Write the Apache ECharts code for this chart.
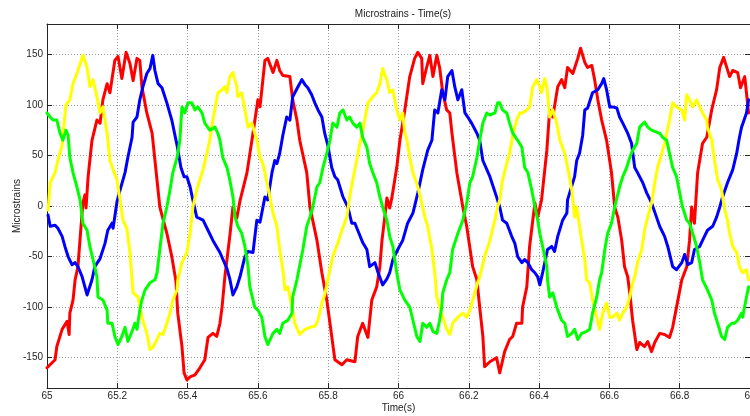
<!DOCTYPE html>
<html>
<head>
<meta charset="utf-8">
<title>Microstrains - Time(s)</title>
<script src="https://cdn.jsdelivr.net/npm/echarts@6/dist/echarts.min.js"></script>
<style>
  html, body { margin: 0; padding: 0; background: #fff; }
  #chart { width: 750px; height: 416px; }
</style>
</head>
<body>
<div id="chart"></div>
<script>
// Strain gauge readings, [time (s), microstrains]
const redTrace = [[65.000,-160],[65.023,-152],[65.028,-139],[65.043,-122],[65.057,-114],[65.063,-127],[65.065,-106],[65.074,-93],[65.080,-73],[65.088,-60],[65.102,3],[65.108,11],[65.111,-2],[65.117,29],[65.128,65],[65.142,85],[65.151,82],[65.159,105],[65.171,121],[65.179,112],[65.193,144],[65.202,148],[65.213,126],[65.225,152],[65.236,141],[65.245,124],[65.256,146],[65.264,144],[65.270,118],[65.284,92],[65.299,72],[65.321,-1],[65.341,-27],[65.355,-50],[65.367,-75],[65.372,-106],[65.384,-139],[65.390,-165],[65.398,-172],[65.407,-169],[65.421,-167],[65.435,-160],[65.449,-152],[65.458,-130],[65.472,-126],[65.483,-129],[65.492,-116],[65.498,-100],[65.506,-70],[65.520,-30],[65.529,-1],[65.540,-12],[65.549,5],[65.569,33],[65.586,72],[65.600,105],[65.606,98],[65.620,144],[65.628,146],[65.643,132],[65.654,144],[65.662,134],[65.671,129],[65.691,128],[65.699,105],[65.711,85],[65.719,65],[65.739,33],[65.748,-1],[65.768,-34],[65.782,-66],[65.796,-93],[65.805,-116],[65.819,-152],[65.827,-154],[65.839,-157],[65.853,-152],[65.876,-154],[65.884,-129],[65.898,-116],[65.913,-130],[65.924,-93],[65.938,-80],[65.947,-60],[65.953,-34],[65.961,-11],[65.967,8],[65.975,-2],[65.981,8],[65.995,38],[66.004,65],[66.018,95],[66.032,128],[66.046,146],[66.055,152],[66.066,146],[66.069,121],[66.080,137],[66.089,149],[66.098,128],[66.109,149],[66.117,137],[66.126,112],[66.137,95],[66.146,92],[66.152,72],[66.166,33],[66.183,-1],[66.194,-20],[66.211,-60],[66.223,-73],[66.231,-100],[66.240,-129],[66.245,-159],[66.260,-154],[66.279,-150],[66.288,-165],[66.302,-144],[66.316,-132],[66.325,-129],[66.336,-116],[66.351,-116],[66.353,-100],[66.365,-80],[66.373,-40],[66.388,3],[66.396,-11],[66.407,6],[66.422,55],[66.430,95],[66.439,88],[66.453,118],[66.464,125],[66.473,117],[66.481,137],[66.496,131],[66.510,146],[66.518,156],[66.530,142],[66.538,137],[66.550,139],[66.558,125],[66.567,105],[66.578,85],[66.592,65],[66.606,33],[66.615,-1],[66.624,-11],[66.635,-34],[66.643,-60],[66.652,-70],[66.658,-86],[66.666,-113],[66.678,-142],[66.686,-135],[66.700,-139],[66.709,-134],[66.720,-144],[66.729,-135],[66.743,-126],[66.757,-127],[66.771,-130],[66.780,-120],[66.791,-100],[66.806,-73],[66.820,-60],[66.828,-34],[66.834,-1],[66.842,-17],[66.851,33],[66.865,62],[66.877,68],[66.891,95],[66.905,115],[66.914,137],[66.925,147],[66.942,128],[66.951,134],[66.965,132],[66.973,117],[66.985,128],[66.996,92]];

const blueTrace = [[65.003,-9],[65.009,-20],[65.023,-19],[65.031,-22],[65.043,-30],[65.051,-40],[65.060,-50],[65.071,-58],[65.080,-56],[65.088,-60],[65.100,-70],[65.114,-88],[65.128,-73],[65.136,-60],[65.151,-52],[65.165,-37],[65.173,-24],[65.185,-17],[65.188,-22],[65.199,4],[65.208,16],[65.222,33],[65.230,48],[65.242,68],[65.245,83],[65.256,88],[65.264,105],[65.273,118],[65.284,131],[65.293,136],[65.301,149],[65.307,134],[65.316,121],[65.327,117],[65.341,102],[65.355,85],[65.370,60],[65.381,38],[65.390,29],[65.398,29],[65.407,19],[65.415,6],[65.426,-11],[65.444,-14],[65.458,-24],[65.472,-34],[65.492,-46],[65.512,-62],[65.520,-72],[65.529,-88],[65.540,-80],[65.549,-70],[65.563,-50],[65.572,-45],[65.586,-46],[65.597,-14],[65.606,-16],[65.620,9],[65.628,6],[65.640,33],[65.648,45],[65.654,42],[65.662,52],[65.671,70],[65.682,88],[65.691,85],[65.699,108],[65.714,118],[65.725,125],[65.734,120],[65.742,117],[65.753,110],[65.762,102],[65.771,95],[65.782,88],[65.790,72],[65.799,60],[65.810,38],[65.819,29],[65.827,26],[65.842,9],[65.856,-1],[65.867,-17],[65.876,-17],[65.884,-24],[65.898,-36],[65.910,-43],[65.918,-60],[65.933,-56],[65.941,-65],[65.955,-78],[65.967,-72],[65.975,-66],[65.984,-53],[65.998,-43],[66.012,-34],[66.026,-17],[66.041,-7],[66.055,13],[66.069,36],[66.083,55],[66.095,65],[66.103,95],[66.112,92],[66.123,115],[66.132,105],[66.140,128],[66.152,134],[66.160,118],[66.169,105],[66.180,115],[66.189,92],[66.197,88],[66.208,82],[66.223,72],[66.231,65],[66.240,45],[66.260,29],[66.279,9],[66.288,-1],[66.296,-14],[66.308,-17],[66.322,-30],[66.331,-37],[66.339,-50],[66.351,-56],[66.359,-53],[66.368,-56],[66.379,-63],[66.388,-66],[66.396,-70],[66.402,-78],[66.410,-66],[66.424,-43],[66.436,-40],[66.444,-45],[66.453,-30],[66.467,-14],[66.479,-7],[66.481,6],[66.487,13],[66.501,29],[66.507,45],[66.515,52],[66.524,70],[66.530,95],[66.538,97],[66.552,112],[66.567,115],[66.578,121],[66.584,126],[66.592,115],[66.601,98],[66.609,98],[66.621,97],[66.629,88],[66.638,82],[66.652,72],[66.663,62],[66.672,38],[66.680,33],[66.695,23],[66.706,13],[66.720,3],[66.734,-11],[66.743,-20],[66.757,-30],[66.766,-40],[66.780,-60],[66.791,-63],[66.806,-56],[66.814,-48],[66.823,-58],[66.834,-56],[66.842,-43],[66.857,-40],[66.865,-34],[66.879,-24],[66.894,-20],[66.905,-11],[66.914,-1],[66.922,9],[66.936,23],[66.951,36],[66.962,52],[66.970,68],[66.976,78],[66.990,92],[66.996,105]];

const yellowTrace = [[65.003,-4],[65.009,23],[65.023,33],[65.031,45],[65.043,60],[65.048,80],[65.054,100],[65.065,105],[65.074,121],[65.088,134],[65.102,149],[65.114,137],[65.122,118],[65.131,125],[65.142,108],[65.151,92],[65.159,98],[65.171,72],[65.179,45],[65.188,36],[65.199,26],[65.208,6],[65.216,-14],[65.227,-22],[65.236,-46],[65.242,-73],[65.245,-86],[65.259,-90],[65.270,-110],[65.284,-126],[65.293,-142],[65.301,-140],[65.313,-132],[65.321,-126],[65.330,-127],[65.341,-116],[65.350,-106],[65.358,-93],[65.370,-83],[65.372,-73],[65.384,-56],[65.398,-46],[65.407,-27],[65.415,-1],[65.426,16],[65.435,26],[65.444,36],[65.455,52],[65.463,65],[65.472,85],[65.486,112],[65.498,115],[65.506,118],[65.512,112],[65.520,128],[65.529,132],[65.540,118],[65.543,108],[65.554,112],[65.563,95],[65.572,78],[65.583,82],[65.591,72],[65.597,65],[65.606,48],[65.614,42],[65.626,23],[65.634,9],[65.643,-7],[65.654,-20],[65.662,-43],[65.671,-63],[65.677,-83],[65.685,-80],[65.697,-100],[65.705,-116],[65.719,-127],[65.734,-122],[65.748,-120],[65.762,-119],[65.771,-113],[65.782,-96],[65.790,-88],[65.796,-78],[65.813,-50],[65.827,-37],[65.839,-24],[65.853,-11],[65.861,9],[65.870,26],[65.881,45],[65.890,62],[65.896,70],[65.904,85],[65.913,102],[65.927,108],[65.938,112],[65.947,121],[65.955,136],[65.967,124],[65.975,112],[65.984,115],[65.995,95],[66.004,85],[66.012,92],[66.018,72],[66.024,65],[66.032,48],[66.041,33],[66.055,19],[66.066,3],[66.075,-11],[66.083,-20],[66.095,-43],[66.103,-66],[66.109,-90],[66.126,-110],[66.137,-122],[66.146,-127],[66.154,-116],[66.169,-110],[66.183,-106],[66.194,-110],[66.203,-103],[66.217,-86],[66.225,-76],[66.231,-70],[66.245,-50],[66.260,-34],[66.274,-14],[66.282,-1],[66.288,6],[66.296,26],[66.308,42],[66.316,52],[66.325,70],[66.336,85],[66.345,92],[66.353,92],[66.365,95],[66.373,98],[66.382,118],[66.393,125],[66.402,118],[66.407,112],[66.416,126],[66.422,118],[66.430,88],[66.439,95],[66.450,82],[66.459,65],[66.473,52],[66.481,38],[66.493,16],[66.501,-11],[66.507,-1],[66.515,-20],[66.521,-34],[66.530,-53],[66.535,-73],[66.544,-76],[66.552,-93],[66.564,-110],[66.572,-122],[66.581,-106],[66.592,-96],[66.601,-110],[66.609,-110],[66.621,-106],[66.629,-113],[66.638,-106],[66.649,-100],[66.658,-90],[66.666,-76],[66.672,-70],[66.680,-56],[66.692,-43],[66.700,-24],[66.709,-11],[66.720,3],[66.729,23],[66.737,38],[66.749,52],[66.757,62],[66.763,72],[66.771,85],[66.780,102],[66.791,98],[66.806,95],[66.814,85],[66.820,110],[66.828,105],[66.837,98],[66.848,105],[66.857,98],[66.865,92],[66.877,85],[66.879,78],[66.891,65],[66.899,45],[66.908,26],[66.919,16],[66.928,-4],[66.936,-14],[66.942,-27],[66.951,-40],[66.962,-46],[66.970,-60],[66.979,-66],[66.990,-63],[66.996,-73]];

const greenTrace = [[65.000,92],[65.009,88],[65.017,85],[65.028,85],[65.037,72],[65.045,65],[65.054,75],[65.060,70],[65.065,48],[65.074,33],[65.085,19],[65.094,6],[65.102,-17],[65.114,-24],[65.122,-40],[65.131,-53],[65.142,-70],[65.145,-90],[65.159,-93],[65.171,-103],[65.173,-116],[65.185,-116],[65.193,-129],[65.202,-137],[65.213,-129],[65.222,-120],[65.230,-134],[65.242,-124],[65.250,-116],[65.256,-122],[65.264,-103],[65.270,-93],[65.279,-83],[65.293,-76],[65.307,-73],[65.313,-66],[65.321,-43],[65.330,-17],[65.341,-1],[65.350,16],[65.358,33],[65.370,48],[65.378,65],[65.384,98],[65.392,92],[65.401,102],[65.412,102],[65.421,95],[65.429,98],[65.441,92],[65.449,82],[65.463,75],[65.478,78],[65.486,72],[65.492,65],[65.500,48],[65.512,38],[65.520,26],[65.529,9],[65.535,-11],[65.543,-20],[65.554,-27],[65.563,-40],[65.572,-60],[65.577,-80],[65.591,-100],[65.600,-103],[65.611,-110],[65.620,-129],[65.628,-137],[65.643,-126],[65.654,-122],[65.662,-126],[65.671,-116],[65.685,-113],[65.697,-106],[65.699,-90],[65.711,-73],[65.728,-43],[65.739,-20],[65.748,-11],[65.756,-1],[65.768,19],[65.776,23],[65.785,38],[65.796,52],[65.805,65],[65.813,82],[65.825,78],[65.833,92],[65.842,95],[65.853,85],[65.861,88],[65.870,82],[65.881,78],[65.890,82],[65.898,68],[65.910,58],[65.918,42],[65.927,33],[65.938,23],[65.947,9],[65.955,-1],[65.967,-14],[65.975,-30],[65.984,-40],[65.995,-66],[66.004,-83],[66.018,-93],[66.032,-100],[66.041,-113],[66.052,-129],[66.061,-134],[66.069,-116],[66.080,-120],[66.089,-116],[66.098,-124],[66.109,-126],[66.117,-113],[66.123,-100],[66.126,-86],[66.137,-73],[66.146,-66],[66.154,-43],[66.169,-27],[66.183,-14],[66.194,3],[66.203,23],[66.211,29],[66.223,48],[66.231,65],[66.240,82],[66.251,92],[66.260,90],[66.274,92],[66.282,102],[66.288,102],[66.296,95],[66.308,92],[66.316,82],[66.325,72],[66.339,65],[66.351,58],[66.359,38],[66.368,33],[66.379,16],[66.388,-1],[66.396,-14],[66.402,-27],[66.410,-40],[66.422,-60],[66.424,-73],[66.430,-90],[66.439,-86],[66.450,-100],[66.464,-113],[66.473,-116],[66.481,-129],[66.493,-126],[66.501,-122],[66.510,-132],[66.521,-126],[66.535,-124],[66.544,-122],[66.552,-106],[66.564,-90],[66.572,-73],[66.578,-66],[66.587,-43],[66.595,-27],[66.606,-17],[66.615,-1],[66.629,19],[66.638,29],[66.649,38],[66.658,48],[66.666,55],[66.678,62],[66.686,78],[66.700,83],[66.709,78],[66.720,75],[66.734,73],[66.743,72],[66.751,68],[66.763,65],[66.771,52],[66.780,38],[66.791,29],[66.800,13],[66.808,-1],[66.820,-14],[66.828,-17],[66.837,-27],[66.848,-40],[66.857,-56],[66.865,-73],[66.879,-83],[66.891,-93],[66.899,-106],[66.908,-116],[66.919,-129],[66.928,-132],[66.936,-120],[66.948,-116],[66.956,-116],[66.965,-113],[66.976,-106],[66.979,-110],[66.990,-90],[66.996,-80]];

// Axis ranges and tick positions
const timeRange = [65, 67];
const timeStep = 0.2;
const strainRange = [-180, 180];
const strainTicks = [-150, -100, -50, 0, 50, 100, 150];

const FONT = '"Liberation Sans", Arial, Helvetica, sans-serif';
const AXIS_COLOR = '#262626';
const GRID_COLOR = '#9a9a9a';

const chart = echarts.init(document.getElementById('chart'), null, { renderer: 'canvas' });

function trace(name, color, data) {
  return {
    name: name,
    type: 'line',
    data: data,
    showSymbol: false,
    symbol: 'none',
    smooth: false,
    lineStyle: { color: color, width: 3, join: 'round', cap: 'round' },
    itemStyle: { color: color },
    emphasis: { disabled: true },
    animation: false,
    clip: true
  };
}

// Frame axes on the top and right: line and inward ticks only
const frameLine = { show: true, onZero: false, lineStyle: { color: AXIS_COLOR, width: 1 } };
const frameLabel = { show: false };
const frameSplit = { show: false };

chart.setOption({
  backgroundColor: '#ffffff',
  animation: false,
  title: {
    text: 'Microstrains - Time(s)',
    left: 398,
    top: 4,
    textAlign: 'center',
    textStyle: { fontFamily: FONT, fontSize: 10, fontWeight: 'normal', color: '#1a1a1a' }
  },
  grid: { left: 47, right: 0, top: 24, bottom: 28, containLabel: false, outerBoundsMode: 'none' },
  xAxis: [
    {
      type: 'value',
      min: timeRange[0],
      max: timeRange[1],
      interval: timeStep,
      position: 'bottom',
      name: 'Time(s)',
      nameLocation: 'middle',
      nameGap: 15,
      nameMoveOverlap: false,
      nameTextStyle: { fontFamily: FONT, fontSize: 10, color: '#1a1a1a' },
      axisLine: { show: true, onZero: false, lineStyle: { color: AXIS_COLOR, width: 1 } },
      axisTick: { show: true, inside: true, length: 5, lineStyle: { color: AXIS_COLOR } },
      axisLabel: { fontFamily: FONT, fontSize: 10, color: '#262626', margin: 3, showMaxLabel: true, showMinLabel: true, hideOverlap: false },
      splitLine: { show: true, lineStyle: { color: GRID_COLOR, type: [1, 2], width: 1 } }
    },
    {
      type: 'value',
      min: timeRange[0],
      max: timeRange[1],
      interval: timeStep,
      position: 'top',
      axisLine: frameLine,
      axisTick: { show: true, inside: true, length: 5, lineStyle: { color: AXIS_COLOR } },
      axisLabel: frameLabel,
      splitLine: frameSplit
    }
  ],
  yAxis: [
    {
      type: 'value',
      min: strainRange[0],
      max: strainRange[1],
      position: 'left',
      name: 'Microstrains',
      nameLocation: 'middle',
      nameRotate: 90,
      nameGap: 25,
      nameMoveOverlap: false,
      nameTextStyle: { fontFamily: FONT, fontSize: 10, color: '#1a1a1a' },
      axisLine: { show: true, onZero: false, lineStyle: { color: AXIS_COLOR, width: 1 } },
      axisTick: { show: true, inside: true, length: 5, customValues: strainTicks, lineStyle: { color: AXIS_COLOR } },
      axisLabel: { fontFamily: FONT, fontSize: 10, color: '#262626', margin: 4, customValues: strainTicks },
      splitLine: { show: true, lineStyle: { color: GRID_COLOR, type: [1, 2], width: 1 } }
    },
    {
      type: 'value',
      min: strainRange[0],
      max: strainRange[1],
      position: 'right',
      axisLine: frameLine,
      axisTick: { show: true, inside: true, length: 5, customValues: strainTicks, lineStyle: { color: AXIS_COLOR } },
      axisLabel: frameLabel,
      splitLine: frameSplit
    }
  ],
  series: [
    trace('Gauge 1', '#ff0000', redTrace),
    trace('Gauge 2', '#0000ff', blueTrace),
    trace('Gauge 3', '#ffff00', yellowTrace),
    trace('Gauge 4', '#00ff00', greenTrace)
  ]
});
</script>
</body>
</html>
